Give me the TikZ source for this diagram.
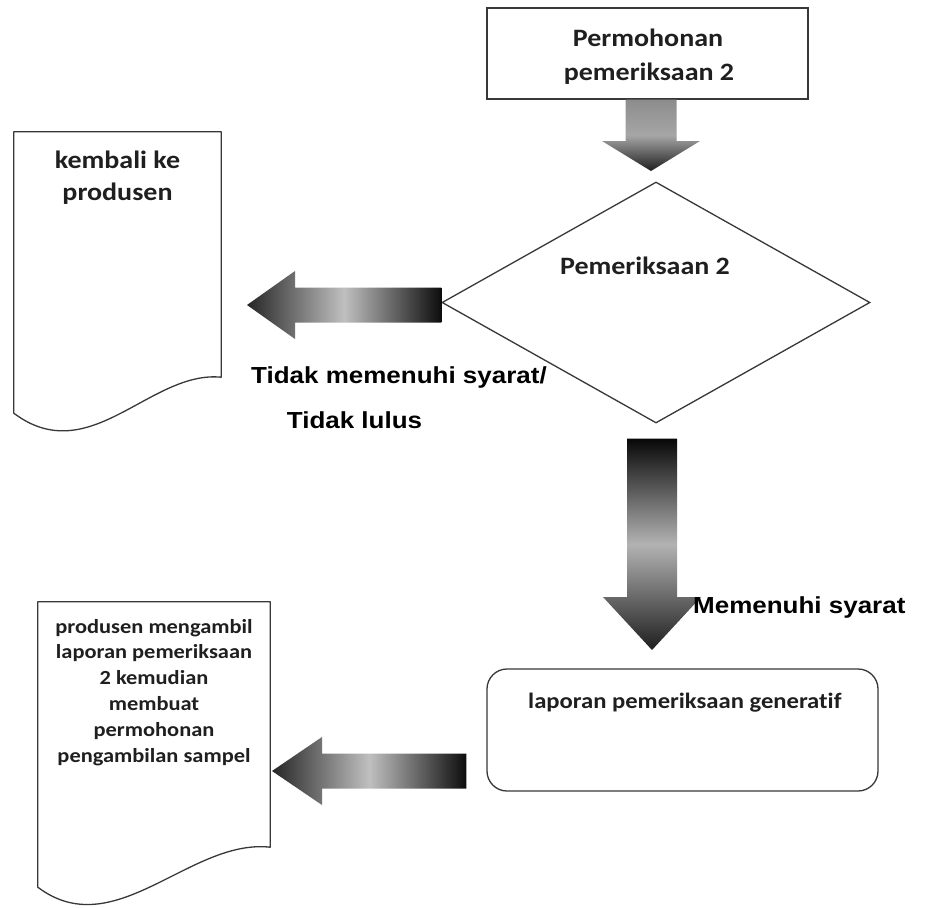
\documentclass[tikz,border=0pt]{standalone}
\usepackage{fontspec}
\setmainfont{Carlito}[FakeStretch=1.12, Ligatures=NoCommon]
\newfontfamily\arialfont{Liberation Sans}[FakeStretch=1.12]
\usetikzlibrary{shapes.geometric,calc}

% block arrow pointing down: tail point, tip point, shaft half width, head half width, head length, style
\newcommand{\blockdown}[6]{%
  \path[#6] let \p1=(#1), \p2=(#2) in
    (\x2-#3,\y1) -- (\x2+#3,\y1) -- (\x2+#3,\y2+#5) -- (\x2+#4,\y2+#5)
    -- (\x2,\y2) -- (\x2-#4,\y2+#5) -- (\x2-#3,\y2+#5) -- cycle;}
% block arrow pointing left: tail point, tip point, shaft half height, head half height, head length, style
\newcommand{\blockleft}[6]{%
  \path[#6] let \p1=(#1), \p2=(#2) in
    (\x1,\y2+#3) -- (\x2+#5,\y2+#3) -- (\x2+#5,\y2+#4) -- (\x2,\y2)
    -- (\x2+#5,\y2-#4) -- (\x2+#5,\y2-#3) -- (\x1,\y2-#3) -- cycle;}

\begin{document}
\begin{tikzpicture}[x=1pt,y=-1pt,
  outline/.style={draw=black!78, line width=1.3pt},
  docbox/.style={inner sep=0pt, minimum height=245pt},
  ctext/.style={inner sep=0pt, anchor=base, text=black!88,
    font=\bfseries\fontsize{25}{30}\selectfont},
  csmall/.style={ctext, font=\bfseries\fontsize{20}{24}\selectfont},
  cmid/.style={ctext, font=\bfseries\fontsize{22}{26}\selectfont},
  atext/.style={inner sep=0pt, anchor=base, text=black,
    font=\arialfont\bfseries\fontsize{23.2}{28}\selectfont},
  hshade/.style={left color=black!85, right color=black!95, middle color=black!25},
  vshadeA/.style={top color=black!45, bottom color=black!88, middle color=black!35},
  vshadeB/.style={top color=black!97, bottom color=black!88, middle color=black!30}]

\useasboundingbox (0,0) rectangle (925,907);
\fill[white] (0,0) rectangle (925,907);

% process boxes and decision
\node[outline, minimum width=321pt, minimum height=91pt, inner sep=0pt] (top) at (647.5,53.5) {};
\node[outline, diamond, minimum width=428pt, minimum height=241pt, inner sep=0pt] (dia) at (656,302.5) {};
\node[outline, rounded corners=20pt, minimum width=391pt, minimum height=122pt, inner sep=0pt] (rep) at (682.5,730) {};

% document shapes (straight part as nodes, wavy bottom drawn from their anchors)
\node[docbox, minimum width=207pt] (doc1) at (117.5,254.5) {};
\node[docbox, minimum width=232pt] (doc2) at (154,724.5) {};
\draw[outline, line join=round] (doc1.south west) -- (doc1.north west) -- (doc1.north east) -- (doc1.south east)
  .. controls +(-71,-7) and +(76,57) .. ($(doc1.south west)+(0,36)$) -- cycle;
\draw[outline, line join=round] (doc2.south west) -- (doc2.north west) -- (doc2.north east) -- (doc2.south east)
  .. controls +(-80,-9) and +(77,58) .. ($(doc2.south west)+(0,40)$) -- cycle;

% block arrows
\coordinate (a1tip) at (651,171);
\coordinate (a2tail) at ($(dia.south)+(0,15)$);
\coordinate (a2tip) at (652,650);
\coordinate (a3tip) at (247,305);
\coordinate (a4tail) at ($(rep.west)+(-20,0)$);
\coordinate (a4tip) at (272,771);
\blockdown{top.south}{a1tip}{25.5pt}{49pt}{30pt}{vshadeA}
\blockdown{a2tail}{a2tip}{25pt}{49pt}{53pt}{vshadeB}
\blockleft{dia.west}{a3tip}{17.5pt}{34pt}{48pt}{hshade}
\blockleft{a4tail}{a4tip}{17.5pt}{34pt}{50pt}{hshade}

% texts
\node[ctext] (t1a) at (648,47) {Permohonan};
\node[ctext] (t1b) at (649,81) {pemeriksaan 2};
\node[ctext] (t2) at (645,274) {Pemeriksaan 2};
\node[ctext] (t3a) at (117.5,168) {kembali ke};
\node[ctext] (t3b) at (117.5,200) {produsen};
\node[atext] (t4a) at (399,383) {Tidak memenuhi syarat/};
\node[atext] (t4b) at (354.5,428) {Tidak lulus};
\node[atext, anchor=base west] (t5) at (693,613) {Memenuhi syarat};
\node[cmid, anchor=base west] (t6) at (528,708) {laporan pemeriksaan generatif};
\node[csmall] (t7a) at (154,633) {produsen mengambil};
\node[csmall] (t7b) at (154,658.8) {laporan pemeriksaan};
\node[csmall] (t7c) at (154,684.6) {2 kemudian};
\node[csmall] (t7d) at (154,710.4) {membuat};
\node[csmall] (t7e) at (154,736.2) {permohonan};
\node[csmall] (t7f) at (154,762) {pengambilan sampel};
\end{tikzpicture}
\end{document}
